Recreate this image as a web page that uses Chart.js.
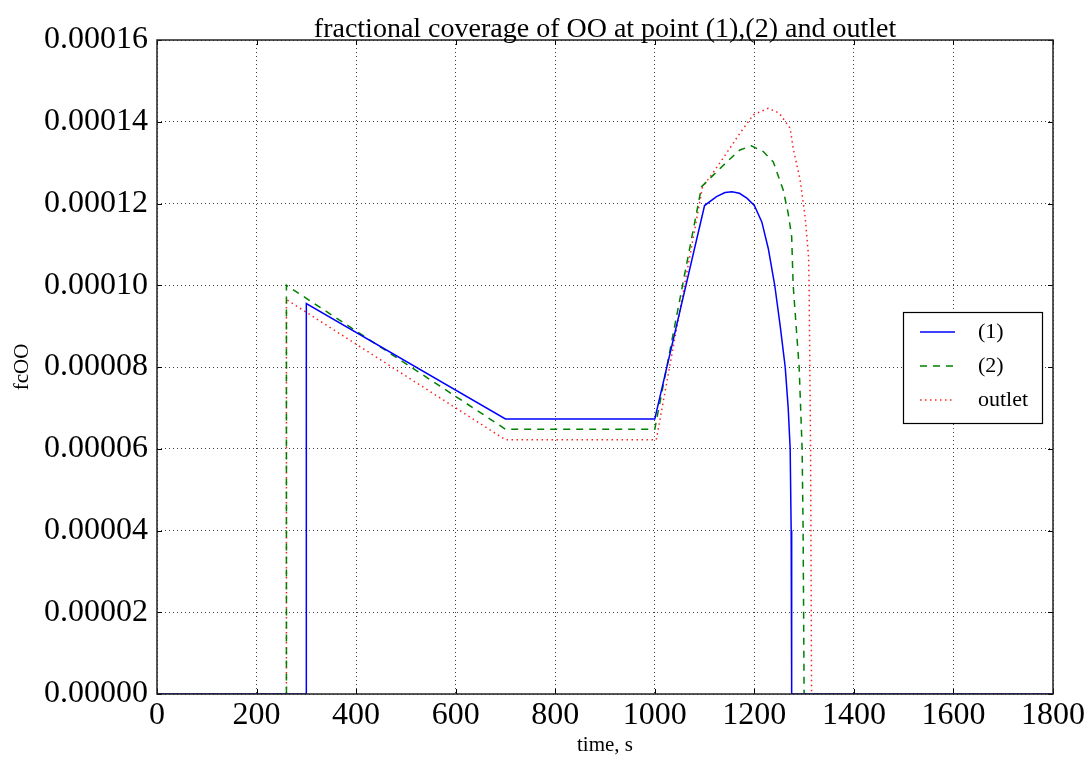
<!DOCTYPE html>
<html>
<head>
<meta charset="utf-8">
<title>fractional coverage of OO</title>
<script src="https://cdn.jsdelivr.net/npm/chart.js@4.4.1/dist/chart.umd.min.js"></script>
<style>
    html, body { margin: 0; padding: 0; background: #ffffff; }
    #wrap { width: 1089px; height: 762px; }
</style>
</head>
<body>
<div id="wrap"><canvas id="chart" width="1089" height="762"></canvas></div>
<script>
// values
const t1 = [0, 300, 300, 700, 1000, 1100, 1124, 1141, 1155, 1170, 1185, 1200, 1215, 1228, 1241, 1252, 1262, 1268, 1272, 1274, 1275, 1800]
const fc1 = [0, 0, 0.0000955, 0.0000673, 0.0000673, 0.0001195, 0.0001217, 0.0001227, 0.0001229, 0.0001225, 0.0001213, 0.0001195,
    0.0001155, 0.000109, 0.0001, 0.00009, 0.00008, 0.00007, 0.00006, 0.00004, 0, 0]

const t2 = [0, 260, 260, 700, 1000, 1094, 1118, 1145, 1171, 1194, 1218, 1238, 1258, 1268, 1275, 1278, 1290, 1296, 1298, 1300, 1800]
const fc2 = [0, 0, 0.0001, 0.0000648, 0.0000648, 0.0001241, 0.000127, 0.0001302, 0.0001331, 0.0001341, 0.0001327, 0.0001302,
    0.0001233, 0.0001176, 0.0001119, 0.0001, 0.00008, 0.00006, 0.00004, 0, 0]

const t3 = [0, 260, 260, 700, 1003, 1096, 1114, 1144, 1171, 1198, 1228, 1250, 1272, 1278, 1292, 1302, 1309, 1310, 1313, 1315, 1800]
const fc3 = [0, 0, 0.0000965, 0.0000622, 0.0000622, 0.0001241, 0.000127, 0.0001323, 0.0001372, 0.0001417, 0.0001433, 0.0001421,
    0.0001384, 0.0001335, 0.0001258, 0.0001168, 0.000107, 0.0001, 0.00006, 0, 0]

const seriesLabels = ['(1)', '(2)', 'outlet']
const titleText = 'fractional coverage of OO at point (1),(2) and outlet'
const xTitle = 'time, s'
const yTitle = 'fcOO'

const serif = "'Liberation Serif', 'Times New Roman', serif"

function toPoints(xs, ys) {
    return xs.map((x, i) => ({ x: x, y: ys[i] }))
}

// frame, inward ticks, title and legend, drawn like matplotlib does
const framePlugin = {
    id: 'frame',
    afterDraw(chart) {
        const { ctx, chartArea: a, scales } = chart
        ctx.save()
        // ticks pointing inside on all four sides
        ctx.strokeStyle = '#000'
        ctx.lineWidth = 1
        ctx.beginPath()
        scales.x.ticks.forEach(t => {
            const px = Math.round(scales.x.getPixelForValue(t.value)) + 0.5
            ctx.moveTo(px, a.bottom); ctx.lineTo(px, a.bottom - 5)
            ctx.moveTo(px, a.top); ctx.lineTo(px, a.top + 5)
        })
        scales.y.ticks.forEach(t => {
            const py = Math.round(scales.y.getPixelForValue(t.value)) + 0.5
            ctx.moveTo(a.left, py); ctx.lineTo(a.left + 5, py)
            ctx.moveTo(a.right, py); ctx.lineTo(a.right - 5, py)
        })
        ctx.stroke()
        // axes box
        ctx.lineWidth = 1.5
        ctx.strokeStyle = '#222'
        ctx.strokeRect(a.left, a.top, a.right - a.left, a.bottom - a.top)
        // title
        ctx.fillStyle = '#000'
        ctx.font = '28px ' + serif
        ctx.textAlign = 'center'
        ctx.textBaseline = 'alphabetic'
        ctx.fillText(titleText, (a.left + a.right) / 2, 37)
        // legend
        const box = { x: 903, y: 312, w: 139, h: 111 }
        ctx.fillStyle = '#fff'
        ctx.fillRect(box.x, box.y, box.w, box.h)
        ctx.lineWidth = 1.2
        ctx.strokeStyle = '#000'
        ctx.strokeRect(box.x + 0.5, box.y + 0.5, box.w, box.h)
        ctx.font = '22px ' + serif
        ctx.textAlign = 'left'
        ctx.textBaseline = 'middle'
        chart.data.datasets.forEach((ds, i) => {
            const rowY = box.y + 20 + i * 34
            ctx.strokeStyle = ds.borderColor
            ctx.lineWidth = ds.borderWidth
            ctx.setLineDash(ds.borderDash || [])
            ctx.beginPath()
            ctx.moveTo(920, rowY); ctx.lineTo(955, rowY)
            ctx.stroke()
            ctx.setLineDash([])
            ctx.fillStyle = '#000'
            ctx.fillText(ds.label, 978, rowY)
        })
        ctx.restore()
    }
}

const ctx = document.getElementById('chart').getContext('2d')
const chart = new Chart(ctx, {
    type: 'line',
    data: {
        datasets: [
            {
                label: seriesLabels[0],
                data: toPoints(t1, fc1),
                borderColor: '#0000ff',
                borderWidth: 1.5,
                borderDash: []
            },
            {
                label: seriesLabels[1],
                data: toPoints(t2, fc2),
                borderColor: '#008000',
                borderWidth: 1.5,
                borderDash: [7, 6]
            },
            {
                label: seriesLabels[2],
                data: toPoints(t3, fc3),
                borderColor: '#ff2020',
                borderWidth: 1.5,
                borderDash: [1.5, 3.5]
            }
        ]
    },
    options: {
        responsive: false,
        animation: false,
        devicePixelRatio: 1,
        elements: {
            point: { radius: 0 },
            line: { tension: 0, fill: false }
        },
        layout: {
            padding: { top: 40, right: 36, left: 0, bottom: 0 }
        },
        scales: {
            x: {
                type: 'linear',
                min: 0,
                max: 1800,
                afterFit: s => { s.height = 68 },
                ticks: {
                    stepSize: 200,
                    autoSkip: false,
                    maxRotation: 0,
                    padding: 2,
                    color: '#000',
                    font: { family: serif, size: 32 },
                    callback: v => String(v)
                },
                grid: {
                    drawTicks: false,
                    color: 'rgba(0,0,0,0.75)',
                    lineWidth: 1
                },
                border: { display: false, dash: [1, 3] },
                title: {
                    display: true,
                    text: xTitle,
                    color: '#000',
                    font: { family: serif, size: 21 },
                    padding: { top: 0, bottom: 4 }
                }
            },
            y: {
                type: 'linear',
                min: 0,
                max: 0.00016,
                afterFit: s => { s.width = 157 },
                ticks: {
                    stepSize: 0.00002,
                    autoSkip: false,
                    padding: 9,
                    color: '#000',
                    font: { family: serif, size: 32 },
                    callback: v => v.toFixed(5)
                },
                grid: {
                    drawTicks: false,
                    color: 'rgba(0,0,0,0.75)',
                    lineWidth: 1
                },
                border: { display: false, dash: [1, 3] },
                title: {
                    display: true,
                    text: yTitle,
                    color: '#000',
                    font: { family: serif, size: 21 },
                    padding: { top: 10, bottom: 0 }
                }
            }
        },
        plugins: {
            legend: { display: false },
            title: { display: false },
            tooltip: { enabled: false }
        }
    },
    plugins: [framePlugin]
})
</script>
</body>
</html>
